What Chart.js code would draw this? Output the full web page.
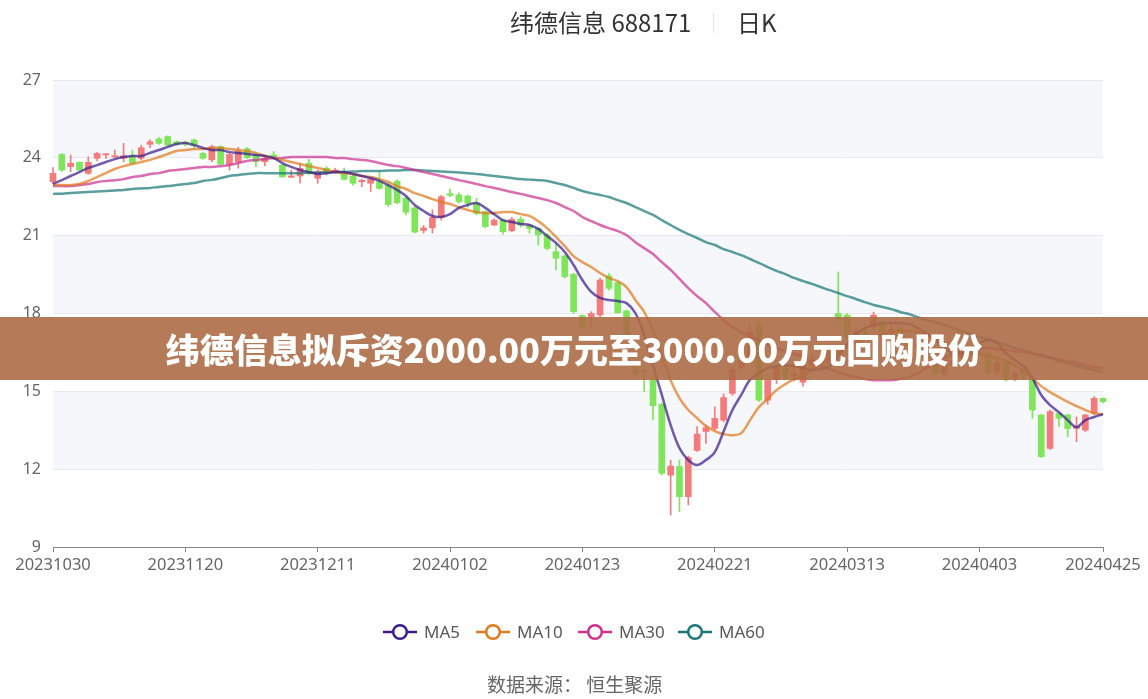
<!DOCTYPE html>
<html>
<head>
<meta charset="utf-8">
<script src="https://cdn.jsdelivr.net/npm/chart.js@4.4.1/dist/chart.umd.min.js"></script>
<style>
  body { margin: 0; background: #fff; font-family: "Noto Sans CJK SC", "Noto Sans", sans-serif; }
  #wrap { position: relative; width: 1148px; height: 699px; overflow: hidden; }
  #kline { position: absolute; left: 0; top: 0; }
  .abs { position: absolute; white-space: nowrap; }
  #title { left: 510px; top: 6px; font-size: 24px; color: #333; line-height: 32px; }
  #sep { left: 713px; top: 13px; width: 1px; height: 20px; background: #e2e2e2; }
  #period { left: 737px; top: 6px; font-size: 24px; color: #333; line-height: 32px; }
  #banner { left: 0; top: 317px; width: 1148px; height: 63px; background: rgba(173,107,69,0.9);
            color: #fff; font-weight: 900; font-size: 34px; line-height: 63px; text-align: center; }
  .leg { top: 620px; height: 24px; font-family: "Noto Sans", sans-serif; font-size: 17px; color: #595959; line-height: 24px; }
  #source { left: 487px; top: 671px; font-size: 19px; color: #666; line-height: 26px; }
</style>
</head>
<body>
<div id="wrap">
  <canvas id="kline" width="1148" height="699"></canvas>
  <div class="abs" id="title">纬德信息 688171</div>
  <div class="abs" id="sep"></div>
  <div class="abs" id="period">日K</div>
  <div class="abs" id="banner">纬德信息拟斥资2000.00万元至3000.00万元回购股份</div>
  <div id="legend"></div>
  <div class="abs" id="source">数据来源： 恒生聚源</div>
</div>
<script>
// 交易日
const dates = [
  '20231030','20231031',
  '20231101','20231102','20231103','20231106','20231107','20231108','20231109','20231110','20231113','20231114',
  '20231115','20231116','20231117','20231120','20231121','20231122','20231123','20231124','20231127','20231128',
  '20231129','20231130',
  '20231201','20231204','20231205','20231206','20231207','20231208','20231211','20231212','20231213','20231214',
  '20231215','20231218','20231219','20231220','20231221','20231222','20231225','20231226','20231227','20231228',
  '20231229',
  '20240102','20240103','20240104','20240105','20240108','20240109','20240110','20240111','20240112','20240115',
  '20240116','20240117','20240118','20240119','20240122','20240123','20240124','20240125','20240126','20240129',
  '20240130','20240131',
  '20240201','20240202','20240205','20240206','20240207','20240208','20240219','20240220','20240221','20240222',
  '20240223','20240226','20240227','20240228','20240229',
  '20240301','20240304','20240305','20240306','20240307','20240308','20240311','20240312','20240313','20240314',
  '20240315','20240318','20240319','20240320','20240321','20240322','20240325','20240326','20240327','20240328',
  '20240329',
  '20240401','20240402','20240403','20240408','20240409','20240410','20240411','20240412','20240415','20240416',
  '20240417','20240418','20240419','20240422','20240423','20240424','20240425'
];
const xTickDates = ['20231030','20231120','20231211','20240102','20240123','20240221','20240313','20240403','20240425'];
const yTicks = [9, 12, 15, 18, 21, 24, 27];

// K线 开 / 收 / 低 / 高
const openP = [
  23.08,24.13,23.66,23.83,23.40,23.98,24.11,24.04,23.98,24.08, 23.98,24.52,24.73,24.82,24.62,24.60,24.69,24.17,23.92,24.43,
  23.75,23.85,24.35,24.11,23.85,24.11,23.72,23.25,23.30,23.79, 23.21,23.60,23.47,23.47,23.30,23.08,23.02,23.08,22.95,23.10,
  22.45,22.07,21.20,21.30,21.70,22.62,22.57,22.53,22.25,21.92, 21.41,21.60,21.19,21.63,21.41,21.28,21.03,20.38,20.22,19.51,
  17.92,17.88,17.94,19.45,19.19,18.10,16.01,15.82,15.47,14.50, 11.77,12.10,10.94,12.72,13.45,13.57,13.89,14.92,15.90,16.30,
  17.55,14.66,15.45,15.94,15.60,15.35,16.00,16.30,16.10,18.00, 17.94,17.10,17.30,17.48,17.60,17.35,17.45,16.90,16.70,16.60,
  16.10,15.70,16.00,16.30,16.40,16.60,16.47,15.75,16.08,15.50, 15.80,15.50,14.09,12.80,14.15,14.09,13.57,13.50,14.15,14.73
];
const closeP = [
  23.40,23.53,23.79,23.53,23.83,24.17,24.16,24.08,24.08,23.79, 24.39,24.62,24.56,24.49,24.52,24.53,24.47,23.98,24.43,23.75,
  24.13,24.25,24.00,23.85,23.98,24.04,23.27,23.30,23.60,23.40, 23.47,23.47,23.53,23.17,23.02,23.14,23.17,22.82,22.20,22.27,
  21.90,21.14,21.30,21.70,22.50,22.55,22.31,22.25,21.86,21.35, 21.60,21.15,21.63,21.41,21.28,21.03,20.51,20.13,19.42,18.07,
  17.50,18.00,19.29,18.97,18.03,17.15,15.69,15.76,14.45,11.84, 12.12,10.94,12.45,13.35,13.60,13.96,14.76,15.85,16.20,17.30,
  14.66,15.44,15.90,15.55,15.70,16.00,16.20,16.10,16.60,17.80, 17.10,17.30,17.20,17.94,17.30,17.40,16.95,16.60,16.80,16.30,
  15.70,16.00,16.20,16.40,16.60,16.80,15.70,16.10,15.44,15.70, 15.60,14.28,12.48,14.22,13.96,13.57,13.64,14.09,14.73,14.60
];
const lowP = [
  23.00,23.47,23.47,23.49,23.36,23.88,23.98,24.01,23.85,23.75, 23.92,24.39,24.52,24.47,24.49,24.45,24.37,23.95,23.85,23.72,
  23.53,23.60,23.98,23.66,23.69,23.98,23.25,23.25,23.02,23.34, 23.02,23.34,23.40,23.14,22.95,22.89,22.70,22.79,22.12,22.22,
  21.80,21.10,21.10,21.10,21.60,22.50,22.25,22.10,21.80,21.30, 21.38,21.06,21.15,21.33,21.09,20.64,20.45,19.67,19.36,18.00,
  17.45,17.50,17.88,18.90,18.00,17.10,15.56,14.98,13.90,11.78, 10.23,10.36,10.62,12.68,12.99,13.50,13.82,14.85,15.80,16.20,
  14.60,14.50,15.30,15.45,15.40,15.20,15.80,15.90,16.00,17.70, 17.00,16.90,17.00,17.40,17.20,17.20,16.90,16.50,16.50,16.20,
  15.60,15.60,15.90,16.10,16.30,16.50,15.60,15.65,15.40,15.40, 15.50,13.96,12.45,12.75,13.65,13.25,13.06,13.45,14.10,14.55
];
const highP = [
  23.62,24.17,24.11,23.85,24.04,24.21,24.16,24.30,24.56,24.30, 24.49,24.69,24.78,24.85,24.65,24.65,24.73,24.21,24.49,24.47,
  24.17,24.40,24.40,24.17,24.04,24.24,23.75,23.53,23.79,23.94, 23.53,23.66,23.60,23.60,23.34,23.17,23.25,23.47,23.05,23.15,
  22.50,22.12,21.40,22.00,22.55,22.80,22.65,22.57,22.44,21.95, 21.65,21.62,21.70,21.73,21.45,21.30,21.09,20.70,20.26,19.55,
  17.95,18.07,19.36,19.55,19.23,18.13,16.14,15.88,15.60,14.55, 12.35,12.35,12.50,13.64,13.70,14.40,14.90,15.95,16.30,17.60,
  17.70,15.50,16.00,16.10,15.90,16.10,16.40,16.50,16.80,19.60, 18.00,17.50,17.60,18.05,17.70,17.60,17.50,17.00,16.90,16.70,
  16.20,16.10,16.30,16.50,16.70,16.90,16.55,16.20,16.15,15.80, 15.90,15.60,14.12,14.28,14.20,14.12,14.02,14.12,14.80,14.75
];

// 均线
const ma5 = [
  23.00,23.14,23.30,23.45,23.61,23.72,23.84,23.95,24.03,24.07, 24.07,24.19,24.30,24.42,24.53,24.57,24.49,24.38,24.30,24.30,
  24.22,24.19,24.15,24.11,24.07,23.99,23.80,23.65,23.53,23.45, 23.38,23.41,23.45,23.45,23.38,23.30,23.22,23.11,22.95,22.76,
  22.53,22.18,21.95,21.76,21.72,21.83,22.07,22.18,22.26,22.07, 21.83,21.60,21.53,21.45,21.41,21.26,20.99,20.72,20.37,19.87,
  19.29,18.83,18.60,18.52,18.48,18.40,18.02,17.17,16.01,14.86, 13.70,12.81,12.35,12.16,12.35,12.66,13.45,14.28,14.86,15.45,
  15.70,15.90,15.97,16.01,15.97,15.90,15.82,15.86,15.97,16.36, 16.82,17.21,17.44,17.55,17.63,17.63,17.63,17.59,17.44,17.24,
  16.98,16.67,16.47,16.47,16.67,16.86,16.98,16.86,16.47,16.20, 15.97,15.51,14.86,14.47,14.20,13.89,13.62,13.89,14.01,14.12
];
const ma10 = [
  22.95,22.95,22.95,22.99,23.11,23.26,23.41,23.57,23.68,23.76, 23.84,23.92,24.03,24.15,24.26,24.30,24.34,24.34,24.38,24.38,
  24.34,24.30,24.26,24.19,24.07,23.99,23.92,23.84,23.76,23.68, 23.61,23.53,23.45,23.41,23.38,23.30,23.26,23.18,23.07,22.91,
  22.80,22.64,22.53,22.41,22.30,22.22,22.10,21.99,21.91,21.87, 21.87,21.91,21.91,21.83,21.76,21.56,21.29,20.95,20.60,20.21,
  19.98,19.79,19.56,19.37,19.25,19.02,18.52,18.06,17.36,16.40, 15.43,14.74,14.28,13.97,13.66,13.47,13.35,13.31,13.39,13.89,
  14.39,14.70,15.05,15.28,15.47,15.59,15.82,16.05,16.28,16.51, 16.71,16.86,17.02,17.13,17.21,17.29,17.32,17.32,17.29,17.17,
  17.05,16.90,16.75,16.59,16.51,16.44,16.36,16.28,16.17,16.01, 15.78,15.51,15.20,14.97,14.78,14.59,14.43,14.28,14.16,14.12
];
const ma30 = [
  22.91,22.91,22.91,22.95,22.99,23.07,23.11,23.14,23.18,23.26, 23.30,23.38,23.41,23.49,23.53,23.57,23.61,23.65,23.65,23.68,
  23.72,23.80,23.88,23.92,23.95,23.99,23.99,24.03,24.03,24.03, 24.03,24.03,23.99,23.99,23.95,23.92,23.88,23.80,23.72,23.68,
  23.61,23.53,23.45,23.38,23.30,23.22,23.14,23.07,22.99,22.91, 22.84,22.76,22.68,22.61,22.53,22.45,22.37,22.26,22.10,21.95,
  21.72,21.56,21.41,21.29,21.18,21.02,20.75,20.52,20.29,19.98, 19.68,19.33,18.98,18.67,18.40,18.06,17.75,17.48,17.29,17.13,
  16.98,16.78,16.67,16.55,16.44,16.32,16.13,16.01,15.86,15.74, 15.63,15.55,15.47,15.43,15.43,15.43,15.47,15.55,15.70,15.90,
  16.09,16.28,16.44,16.55,16.63,16.67,16.67,16.63,16.59,16.55, 16.51,16.44,16.40,16.32,16.24,16.17,16.09,16.01,15.94,15.90
];
const ma60 = [
  22.61,22.62,22.64,22.66,22.68,22.70,22.72,22.74,22.76,22.80, 22.82,22.84,22.88,22.91,22.95,22.99,23.03,23.11,23.15,23.22,
  23.30,23.34,23.38,23.41,23.41,23.41,23.41,23.41,23.41,23.43, 23.43,23.45,23.45,23.45,23.47,23.49,23.49,23.49,23.51,23.51,
  23.53,23.53,23.51,23.49,23.47,23.45,23.43,23.41,23.38,23.34, 23.30,23.26,23.22,23.18,23.16,23.14,23.11,23.03,22.95,22.84,
  22.72,22.64,22.57,22.49,22.37,22.26,22.10,21.95,21.80,21.60, 21.41,21.22,21.06,20.91,20.75,20.64,20.48,20.37,20.25,20.10,
  19.95,19.79,19.64,19.52,19.37,19.25,19.14,19.02,18.90,18.79, 18.67,18.56,18.44,18.33,18.25,18.17,18.06,17.98,17.86,17.75,
  17.67,17.56,17.44,17.32,17.21,17.09,17.02,16.90,16.78,16.67, 16.59,16.48,16.36,16.28,16.17,16.09,15.97,15.90,15.82,15.74
];

const maNames = ['MA5', 'MA10', 'MA30', 'MA60'];
const maColors = ['61,28,142', '224,122,31', '204,51,145', '26,120,120'];
const upColor = '#f47b7b';
const downColor = '#7fe55a';

const isUp = i => closeP[i] >= openP[i];

// 背景条纹
const bandPlugin = {
  id: 'bands',
  beforeDraw(chart) {
    const { ctx, chartArea, scales } = chart;
    ctx.save();
    ctx.fillStyle = '#f5f7fa';
    for (let k = 1; k < yTicks.length - 1; k += 2) {
      const top = scales.y.getPixelForValue(yTicks[k + 1]);
      const bot = scales.y.getPixelForValue(yTicks[k]);
      ctx.fillRect(chartArea.left, top, chartArea.right - chartArea.left, bot - top);
    }
    ctx.restore();
  }
};

const lineSets = [ma5, ma10, ma30, ma60].map((arr, k) => ({
  type: 'line',
  label: maNames[k],
  data: arr,
  borderColor: 'rgba(' + maColors[k] + ',0.72)',
  borderWidth: 2.5,
  pointRadius: 0,
  tension: 0.35,
  order: 0
}));

new Chart(document.getElementById('kline'), {
  type: 'bar',
  data: {
    labels: dates,
    datasets: [
      ...lineSets,
      {
        label: 'wick',
        data: dates.map((d, i) => [lowP[i], highP[i]]),
        backgroundColor: dates.map((d, i) => isUp(i) ? upColor : downColor),
        barThickness: 1,
        grouped: false,
        clip: false,
        order: 2
      },
      {
        label: 'body',
        data: dates.map((d, i) => [openP[i], closeP[i]]),
        backgroundColor: dates.map((d, i) => isUp(i) ? upColor : downColor),
        barThickness: 6,
        minBarLength: 1,
        grouped: false,
        clip: false,
        order: 1
      }
    ]
  },
  options: {
    responsive: false,
    animation: false,
    layout: { padding: { left: 0, right: 45, top: 80, bottom: 122 } },
    plugins: { legend: { display: false }, tooltip: { enabled: false } },
    scales: {
      x: {
        type: 'category',
        offset: false,
        afterFit: s => { s.height = 30; },
        grid: {
          offset: false,
          drawOnChartArea: false,
          drawTicks: true,
          tickLength: 5,
          color: c => xTickDates.includes(dates[c.index]) ? '#888' : 'rgba(0,0,0,0)'
        },
        border: { display: true, color: '#888', width: 1 },
        ticks: {
          autoSkip: false,
          maxRotation: 0,
          padding: 3,
          color: '#666',
          font: { family: '"Noto Sans", sans-serif', size: 16.5 },
          callback: function (v, i) { return xTickDates.includes(dates[i]) ? dates[i] : ''; }
        }
      },
      y: {
        min: 9,
        max: 27,
        afterFit: s => { s.width = 53; },
        afterBuildTicks: s => { s.ticks = yTicks.map(v => ({ value: v })); },
        grid: { color: '#e6e9f0', drawTicks: false },
        border: { display: false },
        ticks: {
          padding: 12,
          color: '#666',
          font: { family: '"Noto Sans", sans-serif', size: 16 }
        }
      }
    }
  },
  plugins: [bandPlugin]
});

// 图例
const legendLeft = [383, 476, 578, 678];
const legendBox = document.getElementById('legend');
maNames.forEach((name, k) => {
  const col = 'rgb(' + maColors[k] + ')';
  const icon = document.createElement('div');
  icon.className = 'abs leg';
  icon.style.left = legendLeft[k] + 'px';
  icon.innerHTML = '<svg width="34" height="24"><line x1="0" y1="12" x2="34" y2="12" stroke="' + col +
    '" stroke-width="2.5"/><circle cx="17" cy="12" r="6.8" fill="#fff" stroke="' + col + '" stroke-width="2.5"/></svg>';
  legendBox.appendChild(icon);
  const txt = document.createElement('div');
  txt.className = 'abs leg';
  txt.style.left = (legendLeft[k] + 41) + 'px';
  txt.textContent = name;
  legendBox.appendChild(txt);
});
</script>
</body>
</html>
